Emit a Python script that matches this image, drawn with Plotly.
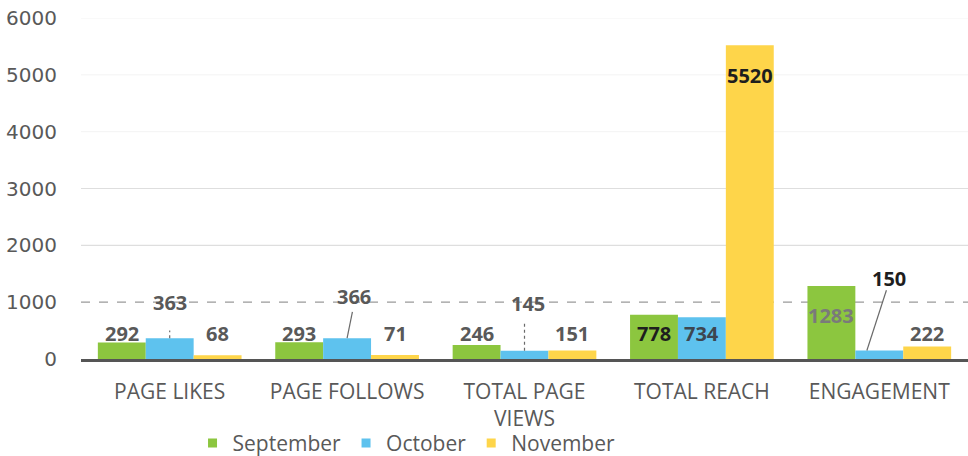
import plotly.graph_objects as go

# Monthly social media metrics
categories = ["PAGE LIKES", "PAGE FOLLOWS", "TOTAL PAGE<br>VIEWS", "TOTAL REACH", "ENGAGEMENT"]
september = [292, 293, 246, 778, 1283]
october = [363, 366, 145, 734, 150]
november = [68, 71, 151, 5520, 222]
y_ticks = [0, 1000, 2000, 3000, 4000, 5000, 6000]

series = [
    ("September", september, "#8cc63f"),
    ("October", october, "#5ec2ee"),
    ("November", november, "#fed54a"),
]

FONT = "Open Sans"
GREY = "#595959"
BARGAP = 0.19
slot = (1 - BARGAP) / 3          # width of one bar in category units
offsets = [-slot, 0.0, slot]     # centre of each series within a group

fig = go.Figure()
for name, vals, col in series:
    fig.add_trace(go.Bar(name=name, x=categories, y=vals, marker_color=col,
                         marker_line_width=0, showlegend=False))
    # small square swatch for the legend
    fig.add_trace(go.Scatter(name=name, x=[None], y=[None], mode="markers",
                             marker=dict(symbol="square", size=9, color=col)))

# Label anchors (data-unit heights of the value labels) and label styles
label_y = [
    [440, 440, 440, 440, 774],        # September
    [1003, 1108, 968, 440, 1408],     # October
    [440, 440, 440, 4997, 440],       # November
]
label_dx = [
    [0, 0, 0, 0, 0],
    [0, 0.04, 0.02, 0, 0.055],
    [0, 0, 0, 0, 0],
]
label_color = [
    [GREY, GREY, GREY, "#1e1e1e", "#7a7a7a"],
    [GREY, GREY, GREY, "#3d4650", "#1e1e1e"],
    [GREY, GREY, GREY, "#1e1e1e", GREY],
]

for si, (name, vals, col) in enumerate(series):
    for ci, v in enumerate(vals):
        fig.add_annotation(
            x=ci + offsets[si] + label_dx[si][ci], y=label_y[si][ci],
            xref="x", yref="y", text=f"<b>{v}</b>", showarrow=False,
            font=dict(family=FONT, size=20, color=label_color[si][ci]),
        )

# Leader lines from October bars to their raised labels
leaders = [
    (0, 0.0, 0.0, 500, "dot"),
    (1, 0.0, 0.03, 830, "solid"),
    (2, 0.0, 0.0, 650, "dot"),
    (4, -0.07, 0.04, 1210, "solid"),
]
for ci, dx0, dx1, ytop, dash in leaders:
    fig.add_shape(type="line", xref="x", yref="y",
                  x0=ci + offsets[1] + dx0, y0=october[ci],
                  x1=ci + offsets[1] + dx1, y1=ytop,
                  line=dict(color="#6a6a6a", width=1.2, dash=dash), layer="above")

# Horizontal grid
for t in y_ticks[1:]:
    if t == 1000:
        line = dict(color="#9a9a9a", width=1.2, dash="dash")
    elif t <= 3000:
        line = dict(color="#dedede", width=1.2)
    else:
        line = dict(color="#f3f3f3", width=1)
    fig.add_shape(type="line", xref="paper", yref="y", x0=0, x1=1, y0=t, y1=t,
                  line=line, layer="below")

fig.update_layout(
    width=968, height=456,
    margin=dict(l=81, r=0, t=18, b=97, autoexpand=False),
    paper_bgcolor="white", plot_bgcolor="white",
    barmode="group", bargap=BARGAP, bargroupgap=0,
    font=dict(family=FONT, color=GREY),
    showlegend=True,
    legend=dict(orientation="h", x=0.367, xanchor="center", y=-0.247, yanchor="middle",
                font=dict(family=FONT, size=21, color=GREY),
                itemwidth=30, tracegroupgap=0, bgcolor="rgba(0,0,0,0)"),
)
fig.update_xaxes(showgrid=False, showline=True, linecolor="#555555", linewidth=2.5,
                 ticks="", ticklabelstandoff=12, automargin=False,
                 tickfont=dict(family=FONT, size=21, color=GREY))
fig.update_yaxes(range=[0, 6000], tickvals=y_ticks, showgrid=False, zeroline=False,
                 showline=False, ticks="", ticklabelstandoff=23, automargin=False,
                 tickfont=dict(family="DejaVu Sans", size=20, color=GREY))

fig.write_html("out.html")
